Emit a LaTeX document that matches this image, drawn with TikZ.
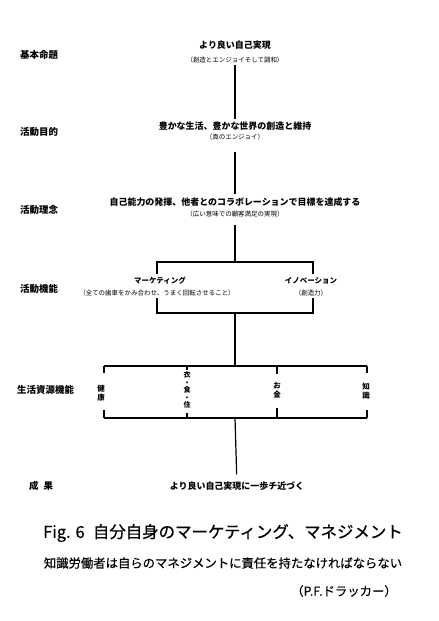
\documentclass[tikz,border=0pt]{standalone}
\usepackage{fontspec}
\usepackage{tikz}
\usetikzlibrary{calc}
\usetikzlibrary{positioning}
\newfontfamily\jpfont{Noto Sans CJK JP}
\newfontfamily\jpcap[FakeBold=0.5]{Noto Sans CJK JP}

\tikzset{
  lvl/.style={anchor=west, inner sep=0pt, font=\jpfont\bfseries\fontsize{9.5}{11}\selectfont},
  mainbox/.style={inner sep=3pt, font=\jpfont\bfseries\fontsize{9}{11}\selectfont},
  subbox/.style={inner sep=2pt, font=\jpfont\fontsize{6.5}{8}\selectfont},
  funcbox/.style={inner sep=3pt, font=\jpfont\bfseries\fontsize{7.5}{9}\selectfont},
  vbox/.style={inner sep=0pt, align=center, font=\jpfont\bfseries\fontsize{7.5}{9.5}\selectfont},
  capbox/.style={inner sep=2pt, font=\jpcap\fontsize{12.4}{15}\selectfont},
  link/.style={line width=1.2bp},
}

\begin{document}
\begin{tikzpicture}[x=1bp,y=-1bp]
\useasboundingbox (0,0) rectangle (439,621);
% Level names (left column)
\node[lvl] (lvA) at (20,55) {基本命題};
\node[lvl] (lvB) at (20,132) {活動目的};
\node[lvl] (lvC) at (20,210) {活動理念};
\node[lvl] (lvD) at (20,289) {活動機能};
\node[lvl] (lvE) at (17,390) {生活資源機能};
\node[lvl] (lvF) at (29,486) {成\hspace{5bp}果};
% Main column (nodes)
\node[mainbox] (goal) at (235,45) {より良い自己実現};
\node[subbox] (goalsub) at (235,60) {（創造とエンジョイそして調和）};
\node[mainbox] (aim) at (235,126) {豊かな生活、豊かな世界の創造と維持};
\node[subbox] (aimsub) at (235,137) {（真のエンジョイ）};
\node[mainbox] (idea) at (235,202) {自己能力の発揮、他者とのコラボレーションで目標を達成する};
\node[subbox] (ideasub) at (235,214) {（広い意味での顧客満足の実現）};
% Lines between levels
\draw[link] (goalsub) -- (aim);
\draw[link, shorten <=10bp] (aimsub) -- (idea);
% Activity functions
\coordinate (fork) at (235,262);
\coordinate (forkL) at (157,262);
\coordinate (forkR) at (313,262);
\node[funcbox] (mkt) at (160,281) {マーケティング};
\node[subbox] (mktsub) at (157,293) {（全ての歯車をかみ合わせ、うまく回転させること）};
\node[funcbox] (inno) at (311,281) {イノベーション};
\node[subbox] (innosub) at (311,293) {（創造力）};
\draw[link, shorten <=6bp] (ideasub) -- (fork);
\draw[link] (mkt.north -| forkL) -- (forkL) -- (forkR) -- (inno.north -| forkR);
\coordinate (join) at (235,313);
\coordinate (joinL) at (157,313);
\coordinate (joinR) at (313,313);
\draw[link] (mktsub.south -| joinL) -- (joinL) -- (joinR) -- (innosub.south -| joinR);
% Life resources
\coordinate (split) at (235,366);
\coordinate (merge) at (235,418);
\foreach \nm/\x in {A/104,B/187,C/277,D/367} {
  \coordinate (top\nm) at (\x,366);
  \coordinate (bot\nm) at (\x,418);
}
\draw[link] (join) -- (split);
\draw[link] (topA) -- (topD);
\draw[link] (botA) -- (botD);
\draw[link] (topA) -- ++(0,7);
\draw[link] (topB) -- ++(0,4);
\draw[link] (topC) -- ++(0,8);
\draw[link] (topD) -- ++(0,7);
\draw[link] (botA) -- ++(0,-8);
\draw[link] (botB) -- ++(0,-5);
\draw[link] (botC) -- ++(0,-10);
\draw[link] (botD) -- ++(0,-8);
\node[vbox] (health) at (101,393) {健\\康};
\node[vbox, font=\jpfont\bfseries\fontsize{7}{7.5}\selectfont] (basics) at (187,390) {衣\\・\\食\\・\\住};
\node[vbox] (money) at (277,390) {お\\金};
\node[vbox] (know) at (366,391) {知\\識};
% Result
\node[mainbox] (result) at (237,486) {より良い自己実現に一歩チ近づく};
\draw[link, shorten >=4bp] (merge) -- (result);
% Caption
\node[capbox, font=\jpcap\fontsize{16.5}{19}\selectfont] (title) at (223,533) {Fig. 6\hspace{0.5em}自分自身のマーケティング、マネジメント};
\node[capbox] (motto) at (223,563) {知識労働者は自らのマネジメントに責任を持たなければならない};
\node[capbox] (author) at (344,591) {（P.F.ドラッカー）};
\end{tikzpicture}
\end{document}
